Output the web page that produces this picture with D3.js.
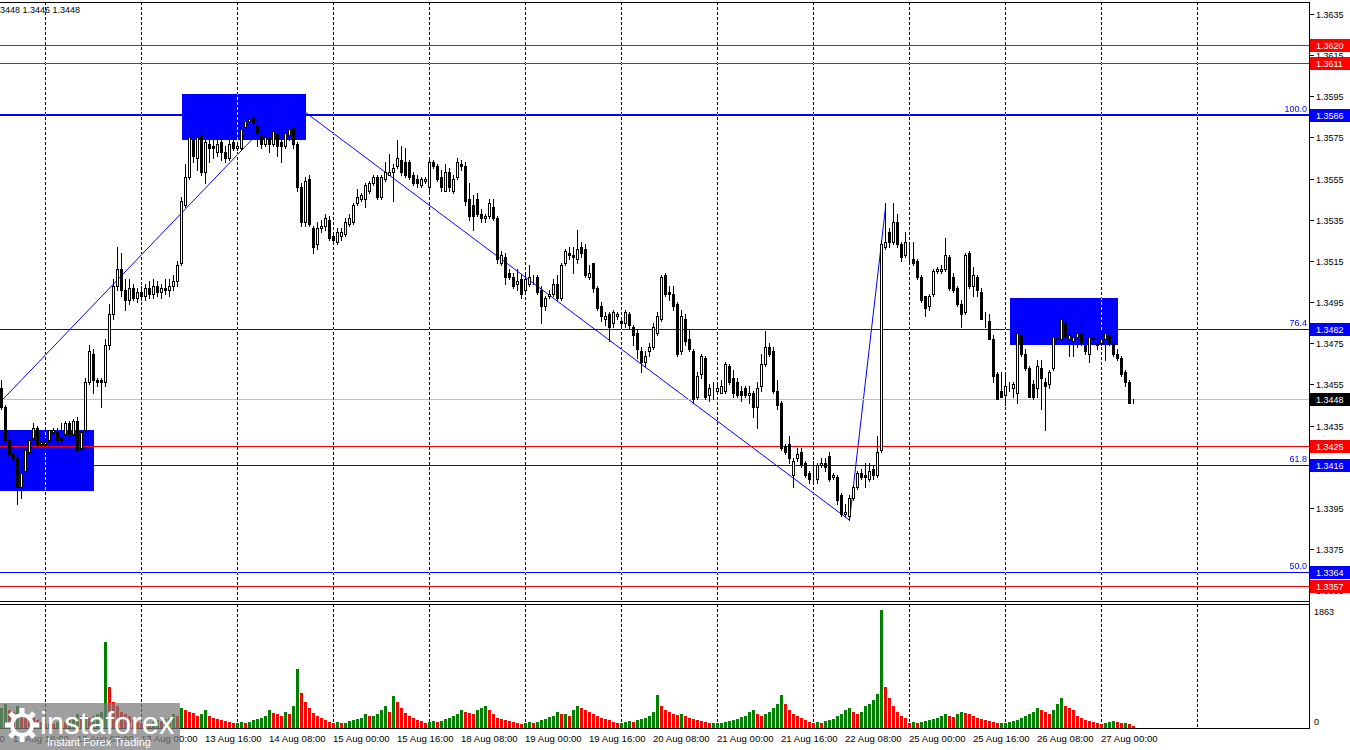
<!DOCTYPE html>
<html><head><meta charset="utf-8">
<script src="https://cdn.jsdelivr.net/npm/d3@7/dist/d3.min.js"></script>
<style>
html,body{margin:0;padding:0;background:#fff;overflow:hidden}
svg{display:block}
text{font-family:"Liberation Sans",Arial,sans-serif;font-size:9px}
</style></head><body>
<svg id="chart" width="1350" height="750"></svg>
<script>
// ---------------- DATA ----------------
const opens=[1.3453,1.3444,1.3428,1.3421,1.3419,1.3405,1.3413,1.3422,1.3429,1.3434,1.3426,1.3426,1.3428,1.3432,1.3432,1.3429,1.3431,1.3436,1.3431,1.3437,1.3424,1.3433,1.3456,1.3470,1.3457,1.3457,1.3456,1.3474,1.3489,1.3503,1.3511,1.3501,1.3496,1.3502,1.3497,1.3500,1.3498,1.3502,1.3499,1.3503,1.3500,1.3502,1.3501,1.3503,1.3505,1.3514,1.3542,1.3556,1.3574,1.3565,1.3576,1.3558,1.3572,1.3571,1.3568,1.3573,1.3568,1.3565,1.3573,1.3570,1.3570,1.3580,1.3583,1.3585,1.3581,1.3576,1.3572,1.3575,1.3572,1.3577,1.3573,1.3571,1.3576,1.3580,1.3572,1.3551,1.3534,1.3555,1.3531,1.3523,1.3531,1.3532,1.3535,1.3527,1.3524,1.3527,1.3528,1.3533,1.3534,1.3543,1.3545,1.3545,1.3549,1.3553,1.3556,1.3546,1.3555,1.3557,1.3558,1.3561,1.3564,1.3563,1.3563,1.3557,1.3555,1.3552,1.3554,1.3551,1.3563,1.3561,1.3556,1.3549,1.3558,1.3549,1.3556,1.3562,1.3561,1.3545,1.3542,1.3545,1.3538,1.3536,1.3537,1.3541,1.3536,1.3514,1.3517,1.3509,1.3507,1.3504,1.3506,1.3501,1.3504,1.3506,1.3507,1.3501,1.3493,1.3498,1.3499,1.3504,1.3497,1.3514,1.3519,1.3518,1.3516,1.3522,1.3521,1.3507,1.3514,1.3502,1.3493,1.3487,1.3489,1.3485,1.3488,1.3486,1.3485,1.3489,1.3483,1.3480,1.3471,1.3466,1.3471,1.3473,1.3480,1.3487,1.3508,1.3500,1.3499,1.3494,1.3471,1.3487,1.3477,1.3471,1.3449,1.3460,1.3468,1.3450,1.3453,1.3452,1.3451,1.3452,1.3464,1.3458,1.3456,1.3452,1.3453,1.3450,1.3451,1.3444,1.3454,1.3465,1.3473,1.3471,1.3452,1.3446,1.3425,1.3426,1.3411,1.3419,1.3422,1.3417,1.3412,1.3409,1.3409,1.3416,1.3417,1.3420,1.3410,1.3410,1.3401,1.3392,1.3391,1.3400,1.3405,1.3412,1.3411,1.3409,1.3414,1.3411,1.3423,1.3522,1.3529,1.3524,1.3534,1.3523,1.3518,1.3515,1.3516,1.3515,1.3507,1.3498,1.3493,1.3499,1.3510,1.3510,1.3511,1.3517,1.3507,1.3502,1.3494,1.3490,1.3519,1.3503,1.3507,1.3500,1.3487,1.3486,1.3477,1.3460,1.3452,1.3450,1.3454,1.3453,1.3451,1.3479,1.3470,1.3463,1.3455,1.3453,1.3463,1.3456,1.3455,1.3463,1.3478,1.3477,1.3485,1.3477,1.3476,1.3478,1.3480,1.3474,1.3470,1.3478,1.3475,1.3475,1.3477,1.3479,1.3475,1.3470,1.3468,1.3461,1.3456,1.3448];
const highs=[1.3457,1.3445,1.3430,1.3423,1.3421,1.3415,1.3424,1.3430,1.3436,1.3435,1.3429,1.3429,1.3433,1.3434,1.3434,1.3436,1.3437,1.3437,1.3438,1.3439,1.3433,1.3458,1.3474,1.3472,1.3458,1.3458,1.3477,1.3494,1.3506,1.3522,1.3519,1.3506,1.3506,1.3504,1.3502,1.3503,1.3504,1.3505,1.3506,1.3505,1.3504,1.3506,1.3506,1.3508,1.3515,1.3546,1.3562,1.3578,1.3577,1.3576,1.3578,1.3574,1.3584,1.3574,1.3578,1.3577,1.3571,1.3574,1.3579,1.3573,1.3580,1.3585,1.3586,1.3590,1.3582,1.3579,1.3577,1.3577,1.3590,1.3590,1.3591,1.3592,1.3593,1.3582,1.3573,1.3553,1.3556,1.3557,1.3532,1.3534,1.3535,1.3538,1.3537,1.3528,1.3531,1.3531,1.3536,1.3538,1.3543,1.3550,1.3548,1.3553,1.3554,1.3557,1.3557,1.3557,1.3563,1.3567,1.3562,1.3574,1.3571,1.3570,1.3564,1.3558,1.3557,1.3556,1.3556,1.3564,1.3564,1.3562,1.3559,1.3562,1.3560,1.3557,1.3565,1.3564,1.3563,1.3553,1.3547,1.3548,1.3540,1.3538,1.3545,1.3545,1.3537,1.3520,1.3519,1.3511,1.3509,1.3511,1.3508,1.3508,1.3513,1.3508,1.3508,1.3503,1.3498,1.3501,1.3506,1.3508,1.3514,1.3521,1.3522,1.3522,1.3530,1.3524,1.3523,1.3513,1.3514,1.3503,1.3495,1.3490,1.3490,1.3491,1.3490,1.3487,1.3491,1.3490,1.3484,1.3482,1.3473,1.3471,1.3475,1.3485,1.3490,1.3508,1.3509,1.3503,1.3503,1.3495,1.3491,1.3489,1.3482,1.3472,1.3461,1.3470,1.3469,1.3455,1.3456,1.3456,1.3457,1.3466,1.3465,1.3462,1.3458,1.3454,1.3454,1.3454,1.3452,1.3456,1.3470,1.3481,1.3475,1.3473,1.3457,1.3447,1.3426,1.3430,1.3419,1.3424,1.3424,1.3418,1.3413,1.3418,1.3417,1.3419,1.3419,1.3422,1.3412,1.3411,1.3402,1.3397,1.3401,1.3406,1.3413,1.3414,1.3417,1.3417,1.3416,1.3430,1.3525,1.3543,1.3531,1.3543,1.3538,1.3524,1.3529,1.3524,1.3524,1.3516,1.3508,1.3498,1.3499,1.3511,1.3512,1.3513,1.3526,1.3518,1.3509,1.3503,1.3496,1.3519,1.3520,1.3512,1.3508,1.3502,1.3490,1.3489,1.3479,1.3461,1.3461,1.3461,1.3456,1.3456,1.3489,1.3482,1.3472,1.3464,1.3457,1.3467,1.3467,1.3458,1.3462,1.3480,1.3481,1.3492,1.3490,1.3481,1.3488,1.3487,1.3492,1.3477,1.3483,1.3483,1.3477,1.3481,1.3482,1.3480,1.3475,1.3472,1.3469,1.3462,1.3457,1.3448];
const lows=[1.3443,1.3427,1.3410,1.3417,1.3397,1.3400,1.3412,1.3421,1.3428,1.3422,1.3425,1.3422,1.3427,1.3431,1.3426,1.3426,1.3428,1.3430,1.3430,1.3418,1.3422,1.3432,1.3455,1.3451,1.3454,1.3444,1.3454,1.3472,1.3487,1.3501,1.3498,1.3491,1.3494,1.3496,1.3495,1.3496,1.3496,1.3497,1.3497,1.3498,1.3497,1.3499,1.3498,1.3501,1.3503,1.3513,1.3541,1.3555,1.3563,1.3559,1.3557,1.3553,1.3563,1.3565,1.3566,1.3564,1.3563,1.3564,1.3569,1.3569,1.3569,1.3579,1.3582,1.3581,1.3571,1.3570,1.3571,1.3568,1.3571,1.3566,1.3563,1.3570,1.3574,1.3570,1.3549,1.3532,1.3532,1.3532,1.3519,1.3521,1.3529,1.3530,1.3525,1.3524,1.3523,1.3525,1.3527,1.3532,1.3533,1.3542,1.3544,1.3541,1.3548,1.3552,1.3545,1.3545,1.3554,1.3557,1.3544,1.3560,1.3557,1.3556,1.3555,1.3552,1.3551,1.3551,1.3553,1.3549,1.3560,1.3554,1.3549,1.3549,1.3549,1.3548,1.3555,1.3559,1.3542,1.3535,1.3530,1.3537,1.3534,1.3534,1.3536,1.3535,1.3514,1.3513,1.3504,1.3506,1.3502,1.3501,1.3497,1.3500,1.3503,1.3504,1.3499,1.3485,1.3491,1.3497,1.3498,1.3496,1.3496,1.3513,1.3516,1.3509,1.3514,1.3517,1.3507,1.3506,1.3500,1.3491,1.3486,1.3484,1.3476,1.3483,1.3487,1.3483,1.3483,1.3482,1.3474,1.3468,1.3461,1.3464,1.3469,1.3472,1.3479,1.3486,1.3498,1.3496,1.3491,1.3469,1.3470,1.3474,1.3471,1.3446,1.3448,1.3458,1.3448,1.3447,1.3448,1.3451,1.3451,1.3451,1.3455,1.3449,1.3449,1.3447,1.3449,1.3446,1.3439,1.3434,1.3452,1.3464,1.3469,1.3451,1.3443,1.3423,1.3421,1.3417,1.3405,1.3418,1.3415,1.3410,1.3407,1.3407,1.3407,1.3415,1.3413,1.3408,1.3409,1.3397,1.3391,1.3391,1.3389,1.3399,1.3404,1.3409,1.3405,1.3408,1.3409,1.3410,1.3422,1.3521,1.3522,1.3523,1.3522,1.3515,1.3517,1.3514,1.3513,1.3506,1.3495,1.3488,1.3491,1.3498,1.3509,1.3509,1.3510,1.3501,1.3500,1.3493,1.3483,1.3489,1.3502,1.3498,1.3498,1.3487,1.3483,1.3477,1.3456,1.3448,1.3449,1.3445,1.3452,1.3449,1.3446,1.3469,1.3462,1.3449,1.3448,1.3449,1.3443,1.3433,1.3453,1.3462,1.3477,1.3476,1.3477,1.3469,1.3469,1.3473,1.3474,1.3470,1.3466,1.3476,1.3472,1.3474,1.3467,1.3474,1.3469,1.3467,1.3459,1.3454,1.3446,1.3446];
const closes=[1.3444,1.3428,1.3421,1.3419,1.3405,1.3412,1.3423,1.3428,1.3434,1.3426,1.3427,1.3427,1.3433,1.3433,1.3428,1.3428,1.3436,1.3431,1.3437,1.3423,1.3432,1.3456,1.3471,1.3457,1.3456,1.3456,1.3474,1.3489,1.3503,1.3511,1.3501,1.3496,1.3502,1.3497,1.3500,1.3498,1.3502,1.3499,1.3503,1.3500,1.3502,1.3501,1.3503,1.3505,1.3513,1.3544,1.3556,1.3575,1.3566,1.3575,1.3558,1.3573,1.3570,1.3570,1.3572,1.3568,1.3565,1.3572,1.3570,1.3571,1.3579,1.3583,1.3584,1.3582,1.3577,1.3572,1.3575,1.3572,1.3578,1.3571,1.3571,1.3577,1.3579,1.3572,1.3551,1.3534,1.3554,1.3533,1.3522,1.3531,1.3532,1.3536,1.3526,1.3525,1.3529,1.3529,1.3534,1.3536,1.3542,1.3546,1.3547,1.3552,1.3553,1.3556,1.3546,1.3556,1.3558,1.3558,1.3560,1.3565,1.3558,1.3557,1.3556,1.3553,1.3553,1.3555,1.3555,1.3563,1.3561,1.3555,1.3551,1.3558,1.3551,1.3555,1.3563,1.3561,1.3544,1.3537,1.3537,1.3538,1.3536,1.3537,1.3543,1.3536,1.3516,1.3518,1.3507,1.3507,1.3503,1.3505,1.3499,1.3506,1.3507,1.3506,1.3500,1.3493,1.3497,1.3499,1.3504,1.3497,1.3513,1.3520,1.3518,1.3517,1.3521,1.3519,1.3508,1.3509,1.3502,1.3492,1.3488,1.3488,1.3483,1.3490,1.3489,1.3485,1.3490,1.3484,1.3479,1.3472,1.3466,1.3469,1.3473,1.3483,1.3488,1.3507,1.3499,1.3499,1.3493,1.3470,1.3488,1.3476,1.3472,1.3448,1.3459,1.3469,1.3449,1.3453,1.3453,1.3453,1.3454,1.3465,1.3456,1.3451,1.3450,1.3450,1.3450,1.3451,1.3444,1.3453,1.3465,1.3473,1.3470,1.3452,1.3445,1.3424,1.3422,1.3419,1.3418,1.3421,1.3416,1.3411,1.3409,1.3409,1.3416,1.3417,1.3415,1.3409,1.3411,1.3399,1.3392,1.3393,1.3400,1.3405,1.3412,1.3410,1.3410,1.3413,1.3411,1.3422,1.3523,1.3524,1.3524,1.3534,1.3523,1.3517,1.3524,1.3515,1.3514,1.3507,1.3496,1.3492,1.3498,1.3510,1.3511,1.3511,1.3518,1.3502,1.3501,1.3494,1.3489,1.3518,1.3503,1.3508,1.3501,1.3487,1.3487,1.3477,1.3459,1.3448,1.3449,1.3454,1.3454,1.3455,1.3480,1.3470,1.3463,1.3449,1.3449,1.3464,1.3458,1.3454,1.3461,1.3478,1.3477,1.3487,1.3478,1.3479,1.3478,1.3480,1.3475,1.3471,1.3478,1.3477,1.3474,1.3477,1.3480,1.3475,1.3470,1.3468,1.3460,1.3456,1.3446,1.3448];
const volumes=[320,384,288,256,352,288,224,192,160,128,96,
80,80,64,96,112,96,128,160,224,192,192,160,192,224,256,1360,640,416,352,256,224,192,128,96,
80,96,80,96,128,112,144,160,224,192,320,288,256,240,192,224,288,192,160,144,128,112,96,80,
80,96,80,96,128,144,160,192,288,240,224,192,256,224,352,928,560,416,320,240,192,160,128,96,
80,96,80,80,112,128,144,160,224,192,192,224,288,352,256,512,416,320,240,192,160,128,112,80,
96,112,96,112,144,160,192,224,288,256,240,224,288,320,352,288,224,160,144,128,112,96,80,64,
80,96,80,96,128,144,176,192,256,224,224,192,288,352,320,288,256,224,192,160,144,128,96,80,
80,96,112,96,128,144,160,192,256,528,352,288,256,224,208,224,192,160,144,128,112,96,80,80,
80,80,96,112,128,144,176,192,256,288,224,192,224,256,320,384,528,384,288,224,192,160,128,96,
80,96,80,112,128,144,192,224,288,320,256,224,256,352,384,448,544,1863,640,480,352,256,192,160,
80,96,80,96,112,128,144,160,192,224,192,176,224,256,240,224,192,160,144,128,112,96,80,80,
80,96,112,128,160,192,224,256,320,288,256,224,288,384,480,352,320,288,192,160,128,112,96,80,
64,80,96,112,96,80,80,64,32];
const firstBarUTC=Date.UTC(2025,7,11,13);           // 11 Aug 13:00, H1 bars, weekends skipped
const priceTicks=d3.range(13635,13340,-20).map(v=>v/10000);
const levelPrices=[1.3620,1.3611,1.3586,1.3482,1.3448,1.3425,1.3416,1.3364,1.3357];
const levelKinds=["sr","sr","fibMain","fib","bid","sr","fib","fib","sr"];
const fibPrices=[1.3586,1.3482,1.3416,1.3364];
const fibTexts=["100.0","76.4","61.8","50.0"];
const zigzagBars=[-1,72,212,221];
const zigzagPrices=[1.3445,1.3593,1.3389,1.3541];
const boxFrom=[-2,45,252], boxTo=[23,76,279];
const boxHigh=[1.3433,1.3596,1.3497], boxLow=[1.3403,1.3574,1.3474];
const volumeMax=1863;
const headerText="GBPUSD,H1  1.3448 1.3448 1.3446 1.3448";

// ---------------- HELPERS ----------------
function barTime(i){
  let t=firstBarUTC, n=Math.abs(i), s=i>=0?1:-1;
  while(n>0){t+=s*3600000;const d=new Date(t).getUTCDay();if(d!==0&&d!==6)n--;}
  return new Date(t);
}
const fmt=d3.utcFormat("%d %b %H:%M");
const pf=d3.format(".4f");

// ---------------- LAYOUT ----------------
const R=1309, MT=2, MB=601, VT=604, VB=728;
const svg=d3.select("#chart");
svg.append("rect").attr("width",1350).attr("height",750).attr("fill","#fff");
const defs=svg.append("defs");
defs.append("clipPath").attr("id","cm").append("rect").attr("x",0).attr("y",MT).attr("width",R).attr("height",MB-MT);
defs.append("clipPath").attr("id","cv").append("rect").attr("x",0).attr("y",VT).attr("width",R).attr("height",VB-VT);

const x=d3.scaleLinear().domain([0,1]).range([1.5,5.5]);
const y=d3.scaleLinear().domain([1.3375,1.3635]).range([549,14]);
const yv=d3.scaleLinear().domain([0,volumeMax]).range([VB,610]);
const ry=p=>Math.round(y(p));

const gm=svg.append("g").attr("clip-path","url(#cm)");
const gv=svg.append("g").attr("clip-path","url(#cv)");
gm.append("rect").attr("x",0).attr("y",MT).attr("width",R).attr("height",MB-MT).attr("fill","#fff");
gv.append("rect").attr("x",0).attr("y",VT).attr("width",R).attr("height",VB-VT).attr("fill","#fff");

// zigzag
gm.append("path")
  .attr("d",d3.line().x(d=>x(d[0])).y(d=>y(d[1]))(zigzagBars.map((b,k)=>[b,zigzagPrices[k]])))
  .attr("fill","none").attr("stroke","#0000ff").attr("stroke-width",1);

// rectangles
boxFrom.forEach((b,k)=>{
  const x0=Math.round(x(b)), x1=Math.round(x(boxTo[k]));
  gm.append("rect").attr("x",x0).attr("width",x1-x0)
    .attr("y",ry(boxHigh[k])).attr("height",ry(boxLow[k])-ry(boxHigh[k])).attr("fill","#0000ff");
});

// horizontal levels
const kindColor={sr:"#ff0000",fib:"#0000ff",fibMain:"#0000ff",bid:"#c0c0c0"};
const kindWidth={sr:1,fib:1,fibMain:2,bid:1};
levelPrices.forEach((p,k)=>{
  const w=kindWidth[levelKinds[k]];
  const yy=ry(p)+(w%2?0.5:0);
  gm.append("line").attr("x1",0).attr("x2",R).attr("y1",yy).attr("y2",yy)
    .attr("stroke",kindColor[levelKinds[k]]).attr("stroke-width",w);
});
fibPrices.forEach((p,k)=>{
  gm.append("text").attr("x",R-2).attr("y",ry(p)-3).attr("text-anchor","end")
    .attr("fill","#0000ff").text(fibTexts[k]);
});

// vertical day grid (drawn in difference mode: black on white, yellow on blue)
const gridBars=d3.range(-24,301).filter(i=>barTime(i).getUTCHours()===0);
[[gm,MT,MB],[gv,VT,VB]].forEach(([g,t,b])=>{
  g.selectAll(null).data(gridBars).join("line")
    .attr("x1",d=>x(d)).attr("x2",d=>x(d)).attr("y1",t).attr("y2",b)
    .attr("stroke","#fff").attr("stroke-dasharray","3,2").attr("stroke-width",1)
    .style("mix-blend-mode","difference");
});

// candles
const idx=d3.range(closes.length);
const gc=gm.append("g");
gc.selectAll(null).data(idx).join("line")
  .attr("x1",i=>x(i)).attr("x2",i=>x(i))
  .attr("y1",i=>ry(highs[i])).attr("y2",i=>ry(lows[i])+1)
  .attr("stroke","#000").attr("stroke-width",1);
gc.selectAll(null).data(idx).join("rect")
  .attr("x",i=>x(i)-1).attr("width",2)
  .attr("y",i=>ry(Math.max(opens[i],closes[i]))+0.5)
  .attr("height",i=>Math.max(0,ry(Math.min(opens[i],closes[i]))-ry(Math.max(opens[i],closes[i]))))
  .attr("fill",i=>closes[i]>=opens[i]?"#fff":"#000")
  .attr("stroke","#000").attr("stroke-width",1);

// volumes
gv.selectAll(null).data(idx).join("rect")
  .attr("x",i=>x(i)-1.5).attr("width",3)
  .attr("y",i=>Math.round(yv(volumes[i])))
  .attr("height",i=>VB-Math.round(yv(volumes[i])))
  .attr("fill",i=>(i===0||volumes[i]>=volumes[i-1])?"#008000":"#ff0000");

// frames
const fr=svg.append("g").attr("stroke","#000").attr("stroke-width",1);
[[0,MT+0.5,R+0.5,MT+0.5],[0,MB+0.5,R+0.5,MB+0.5],[0,VT+0.5,R+0.5,VT+0.5],[0,VB+0.5,R+0.5,VB+0.5],[R+0.5,MT,R+0.5,VB+1]]
  .forEach(a=>fr.append("line").attr("x1",a[0]).attr("y1",a[1]).attr("x2",a[2]).attr("y2",a[3]));

// price axis
const ga=svg.append("g");
priceTicks.forEach(p=>{
  const yy=ry(p)+0.5;
  ga.append("line").attr("x1",R+1).attr("x2",R+5).attr("y1",yy).attr("y2",yy).attr("stroke","#000");
  ga.append("text").attr("x",R+7).attr("y",yy).attr("dy","0.35em").attr("fill","#000").text(pf(p));
});
const labelBg={sr:"#ff0000",fib:"#0000ff",fibMain:"#0000ff",bid:"#000000"};
levelPrices.forEach((p,k)=>{
  const yy=ry(p);
  ga.append("rect").attr("x",R+1).attr("y",yy-6).attr("width",41).attr("height",13).attr("fill",labelBg[levelKinds[k]]);
  ga.append("text").attr("x",R+7).attr("y",yy+0.5).attr("dy","0.35em").attr("fill","#fff").text(pf(p));
});

// volume axis
ga.append("text").attr("x",R+5).attr("y",612).attr("dy","0.35em").text(String(volumeMax));
ga.append("text").attr("x",R+5).attr("y",722).attr("dy","0.35em").text("0");

// time axis
const tickBars=d3.range(-13,closes.length,16);
tickBars.forEach(i=>{
  svg.append("text").attr("x",Math.round(x(i))-1).attr("y",742).attr("fill","#000")
    .style("font-size","9.6px").text(fmt(barTime(i)));
});

// header
svg.append("text").attr("x",80).attr("y",13).attr("text-anchor","end").attr("fill","#000").text(headerText);

// watermark
const wm=svg.append("g");
wm.append("rect").attr("x",0).attr("y",703).attr("width",180).attr("height",47).attr("fill","#7a7a7a").attr("opacity",0.72);
const gear=wm.append("g").attr("transform","translate(22,725)").attr("fill","none").attr("stroke","#fff");
gear.append("circle").attr("r",10).attr("stroke-width",4);
d3.range(8).forEach(k=>gear.append("rect").attr("x",-2.5).attr("y",-17).attr("width",5).attr("height",6)
  .attr("fill","#fff").attr("stroke","none").attr("transform","rotate("+(k*45)+")"));
wm.append("text").attr("x",40).attr("y",734).attr("fill","#fff").style("font-size","31px").text("instaforex");
wm.append("text").attr("x",47).attr("y",746).attr("fill","#fff").style("font-size","11px").text("Instant Forex Trading");
</script></body></html>
